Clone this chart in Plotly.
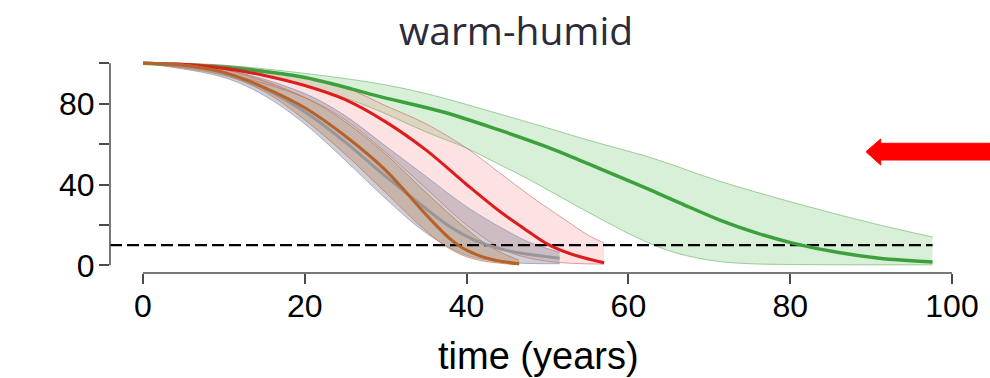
import plotly.graph_objects as go

# ---------------- data ----------------
title_text = "warm-humid"
x_title = "time (years)"
x_ticks = [0, 20, 40, 60, 80, 100]
y_ticks = [0, 20, 40, 60, 80, 100]
y_ticktext = ["0", "", "40", "", "80", ""]
threshold = 10
threshold_end = 97.6

green_x = [0, 10, 20, 29.3, 37, 44, 50, 54, 58, 62.7, 66.4, 71.3, 76, 80.3, 86, 91, 97.6]
green_y = [100, 98, 93, 83.5, 76, 67, 58.5, 52, 45.3, 37.3, 30.8, 22.4, 15.8, 11, 6.3, 3.5, 1.6]
green_up_x = [0, 10, 20, 29, 35, 44, 50, 55, 63, 71, 80, 90, 97.6]
green_up_y = [100, 99, 95, 90, 85, 75, 68, 62, 53, 42, 31.5, 21, 14]
green_lo_x = [0, 10, 20, 27.6, 35, 40, 44, 47, 52, 57, 62, 66, 71, 75, 80, 97.6]
green_lo_y = [100, 97, 89, 79, 66, 58, 50, 44, 33, 22, 12, 6, 2, 0.8, 0.4, 0.2]

red_x = [0, 5, 10, 15, 20, 25, 30, 35, 40, 44, 47, 50, 53, 57]
red_y = [100, 99.5, 97.5, 94, 89, 82, 71, 57, 40, 27, 18.5, 10.5, 5.5, 1.3]
red_up_x = [0, 10, 20, 25, 30, 35, 40, 44, 48, 52, 55, 57]
red_up_y = [100, 99, 93, 88, 79, 70, 58, 46, 34, 23, 15, 11]
red_lo_x = [0, 10, 20, 25, 30, 35, 40, 45, 50, 57]
red_lo_y = [100, 95, 83, 72, 56, 38, 20, 7, 2, 0.6]

gray_x = [0, 5, 10, 15, 20, 25, 30, 35, 38, 41, 44, 47, 51.5]
gray_y = [100, 99, 95, 87.5, 76, 61, 44, 28, 19, 12.5, 8.3, 5.8, 3.5]
gray_up_x = [0, 10, 20, 25, 30, 35, 40, 45, 48, 51.5]
gray_up_y = [100, 97, 85, 74, 59, 44, 29, 17, 11, 6.5]
gray_lo_x = [0, 10, 15, 20, 25, 30, 35, 40, 45, 51.5]
gray_lo_y = [100, 93, 84, 70, 52, 33, 16, 5, 1.5, 0.8]

brown_x = [0, 5, 10, 15, 20, 25, 30, 35, 38, 40, 43, 46.5]
brown_y = [100, 99, 95.5, 88, 78, 64, 47, 25, 13, 7.5, 3, 0.8]
brown_up_x = [0, 10, 20, 25, 30, 35, 40, 43, 46.5]
brown_up_y = [100, 97, 83, 71, 55, 36, 18, 9, 2.5]
brown_lo_x = [0, 10, 15, 20, 25, 30, 35, 38, 41, 46.5]
brown_lo_y = [100, 94, 86, 72, 55, 36, 17, 8, 3, 0.2]

# ---------------- layout geometry ----------------
W, H = 990, 378
ML, MR, MT, MB = 110, 28, 55, 105
X_RANGE = [-4.08, 101.24]
Y_RANGE = [-3.8, 104.1]
PW, PH = W - ML - MR, H - MT - MB


def px(xp):
    return (xp - ML) / PW


def py(yp):
    return (H - MB - yp) / PH


fig = go.Figure()

series = [
    (green_x, green_y, green_up_x, green_up_y, green_lo_x, green_lo_y,
     "rgb(60,160,60)", "rgba(110,195,110,0.27)", "rgba(90,170,90,0.7)", 3.5),
    (red_x, red_y, red_up_x, red_up_y, red_lo_x, red_lo_y,
     "rgb(222,28,28)", "rgba(240,110,110,0.2)", "rgba(200,90,90,0.7)", 3),
    (gray_x, gray_y, gray_up_x, gray_up_y, gray_lo_x, gray_lo_y,
     "rgb(150,150,155)", "rgba(130,130,145,0.38)", "rgba(130,140,180,0.8)", 3),
    (brown_x, brown_y, brown_up_x, brown_up_y, brown_lo_x, brown_lo_y,
     "rgb(182,98,40)", "rgba(185,125,85,0.32)", "rgba(190,110,60,0.8)", 3),
]

for (mx, my, ux, uy, lx, ly, lc, fc, ec, lw) in series:
    fig.add_trace(go.Scatter(x=lx, y=ly, mode="lines",
                             line=dict(color=ec, width=0.8, shape="spline"),
                             hoverinfo="skip", showlegend=False))
    fig.add_trace(go.Scatter(x=ux, y=uy, mode="lines", fill="tonexty",
                             fillcolor=fc,
                             line=dict(color=ec, width=0.8, shape="spline"),
                             hoverinfo="skip", showlegend=False))

fig.add_trace(go.Scatter(x=[X_RANGE[0], threshold_end], y=[threshold, threshold],
                         mode="lines",
                         line=dict(color="black", width=2.2, dash="12px,5px"),
                         hoverinfo="skip", showlegend=False))

for (mx, my, ux, uy, lx, ly, lc, fc, ec, lw) in series:
    fig.add_trace(go.Scatter(x=mx, y=my, mode="lines",
                             line=dict(color=lc, width=lw, shape="spline"),
                             showlegend=False))

axis_col = "#4a4a4a"
shapes = [
    dict(type="line", xref="paper", yref="y", x0=0, x1=0, y0=y_ticks[0], y1=y_ticks[-1],
         line=dict(color=axis_col, width=1.5)),
    dict(type="line", xref="x", yref="paper", x0=x_ticks[0], x1=x_ticks[-1], y0=0, y1=0,
         line=dict(color=axis_col, width=1.5)),
]

# red arrow (pixel outline converted to paper coordinates)
arrow_px = [(866, 151.7), (880.7, 139), (880.7, 143.3), (990, 143.3),
            (990, 160), (880.7, 160), (880.7, 165)]
path = "M " + " L ".join(f"{px(a):.4f},{py(b):.4f}" for a, b in arrow_px) + " Z"
shapes.append(dict(type="path", xref="paper", yref="paper", path=path,
                   fillcolor="red", line=dict(color="red", width=1)))

fig.update_layout(
    width=W, height=H,
    margin=dict(l=ML, r=MR, t=MT, b=MB),
    paper_bgcolor="white", plot_bgcolor="white",
    shapes=shapes,
    xaxis=dict(range=X_RANGE, tickvals=x_ticks, ticks="outside", ticklen=10,
               tickwidth=1.5, tickcolor=axis_col, showline=False, showgrid=False,
               zeroline=False, ticklabelstandoff=-5,
               tickfont=dict(family="Arial, Liberation Sans", size=32, color="black")),
    yaxis=dict(range=Y_RANGE, tickvals=y_ticks, ticktext=y_ticktext, ticks="outside",
               ticklen=10, tickwidth=1.5, tickcolor=axis_col, showline=False,
               showgrid=False, zeroline=False, ticklabelstandoff=-2,
               tickfont=dict(family="Arial, Liberation Sans", size=32, color="black")),
    annotations=[
        dict(text=title_text, xref="paper", yref="paper", x=px(516), y=py(30),
             xanchor="center", yanchor="middle", showarrow=False,
             font=dict(family="Open Sans", size=39, color="#2b2b3b")),
        dict(text=x_title, xref="paper", yref="paper", x=px(538), y=py(356),
             xanchor="center", yanchor="middle", showarrow=False,
             font=dict(family="Arial, Liberation Sans", size=38, color="black")),
    ],
)

fig.write_html("out.html")
